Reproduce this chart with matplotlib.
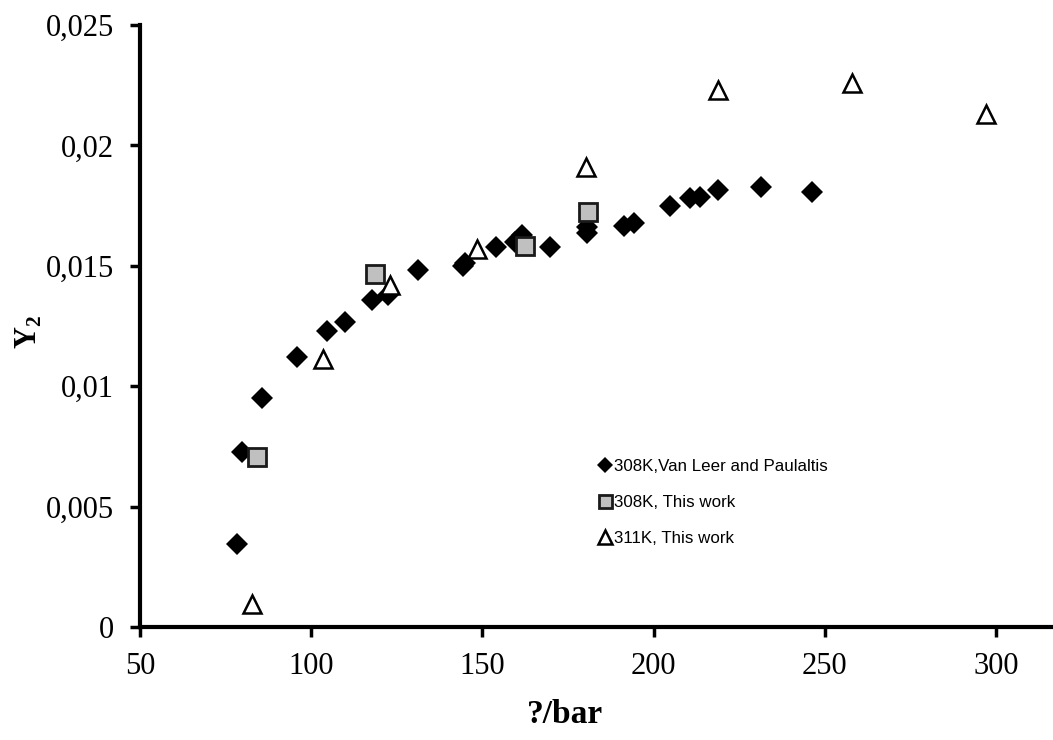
import matplotlib
matplotlib.use("Agg")
import matplotlib.pyplot as plt

# 308K, Van Leer and Paulaltis
vl_p = [78.4, 79.7, 85.5, 95.8, 104.5, 109.8, 117.8, 122.3, 131.3, 144.4, 145.0,
        154.0, 159.5, 161.5, 169.7, 180.5, 180.5, 191.2, 194.1, 204.9, 210.6,
        213.6, 218.9, 231.3, 246.3]
vl_y = [0.00345, 0.00728, 0.00952, 0.01123, 0.0123, 0.01266, 0.01358, 0.01377,
        0.01483, 0.0150, 0.01512, 0.01579, 0.0160, 0.01628, 0.01579, 0.01662,
        0.01635, 0.01665, 0.01676, 0.01748, 0.0178, 0.01787, 0.01815, 0.01826,
        0.01808]

# 308K, This work
sq_p = [84.1, 118.7, 162.4, 180.9]
sq_y = [0.00705, 0.01468, 0.01582, 0.01725]

# 311K, This work
tr_p = [82.8, 103.5, 123.1, 148.5, 180.3, 218.7, 257.9, 297.1]
tr_y = [0.00094, 0.01113, 0.01421, 0.01571, 0.01912, 0.0223, 0.02259, 0.0213]

xticks = [50, 100, 150, 200, 250, 300]
yticks = [0, 0.005, 0.01, 0.015, 0.02, 0.025]
ylabels = ["0", "0,005", "0,01", "0,015", "0,02", "0,025"]

plt.rcParams['mathtext.fontset'] = 'custom'
plt.rcParams['mathtext.rm'] = 'Liberation Serif'
plt.rcParams['mathtext.bf'] = 'Liberation Serif:bold'

fig = plt.figure(figsize=(10.53, 7.40), dpi=100)
ax = fig.add_axes([0.133, 0.1527, 0.867, 0.8135])

ax.plot(vl_p, vl_y, linestyle='none', marker='D', markersize=11,
        color='black', markeredgewidth=0, label="308K,Van Leer and Paulaltis")
ax.plot(sq_p, sq_y, linestyle='none', marker='s', markersize=13,
        markerfacecolor='#c0c0c0', markeredgecolor='#1a1a1a', markeredgewidth=2,
        label="308K, This work")
ax.plot(tr_p, tr_y, linestyle='none', marker='^', markersize=13.5,
        markerfacecolor='white', markeredgecolor='black', markeredgewidth=1.8,
        label="311K, This work")

ax.set_xlim(50, 316.6)
ax.set_ylim(0, 0.025)
ax.set_xticks(xticks)
ax.set_xticklabels([str(t) for t in xticks], family='Liberation Serif', fontsize=22)
ax.set_yticks(yticks)
ax.set_yticklabels(ylabels, family='Liberation Serif', fontsize=22)

for s in ['top', 'right']:
    ax.spines[s].set_visible(False)
for s in ['left', 'bottom']:
    ax.spines[s].set_linewidth(3)
ax.tick_params(direction='out', length=7, width=2.5)
ax.tick_params(axis='x', pad=11)
ax.tick_params(axis='y', pad=12)

ax.set_xlabel("?/bar", family='Liberation Serif', fontsize=24, fontweight='bold')
ax.xaxis.set_label_coords(0.465, -0.12)
ax.set_ylabel(r"$\mathbf{Y}_\mathbf{2}$", fontsize=22)
ax.yaxis.set_label_coords(-0.105, 0.49)

ax.legend(loc='upper left', bbox_to_anchor=(0.555, 0.40),
          bbox_transform=fig.transFigure, frameon=False, markerscale=0.72,
          handlelength=0.6, handletextpad=0.25, labelspacing=1.22,
          prop={'family': 'Liberation Sans', 'size': 12.2})

fig.savefig("out.png", dpi=100)
